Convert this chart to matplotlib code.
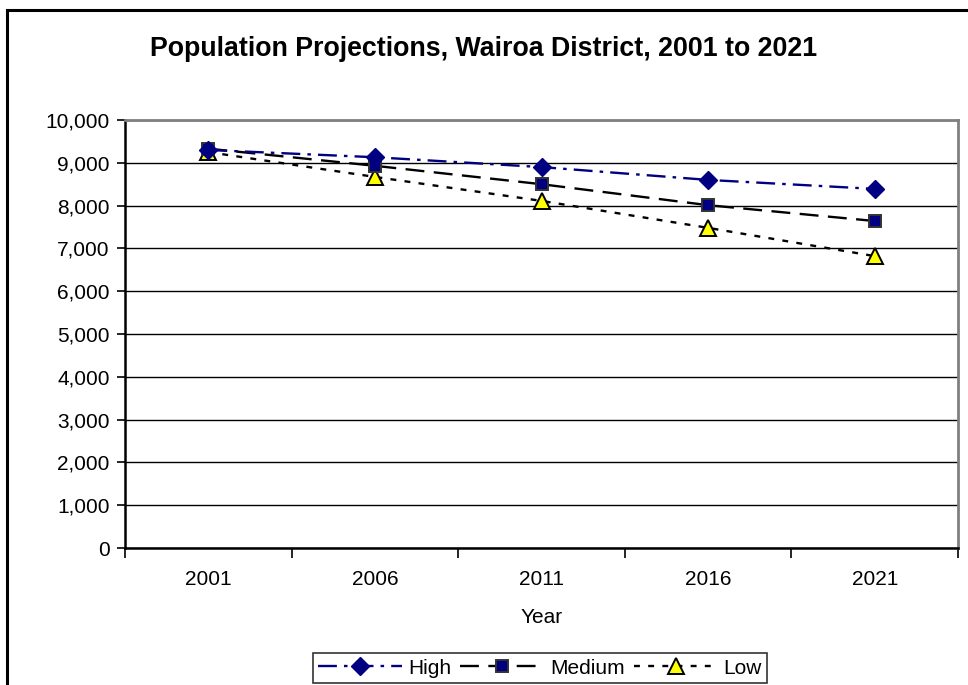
import matplotlib
matplotlib.use("Agg")
import matplotlib.pyplot as plt
from matplotlib.patches import Rectangle

plt.rcParams['font.family'] = ['Liberation Sans', 'DejaVu Sans']

years = ["2001", "2006", "2011", "2016", "2021"]
high = [9300, 9130, 8900, 8600, 8390]
medium = [9330, 8930, 8500, 8010, 7640]
low = [9250, 8670, 8110, 7480, 6820]
y_ticks = [0, 1000, 2000, 3000, 4000, 5000, 6000, 7000, 8000, 9000, 10000]

FS = 15

fig = plt.figure(figsize=(9.68, 6.85), dpi=100)
fig.patch.set_facecolor('white')
# outer chart border (top and left visible)
fig.patches.append(Rectangle((7/968, -0.05), 1.2, 1 - 9.5/685 + 0.05, transform=fig.transFigure,
                             fill=False, edgecolor='black', linewidth=2.2))

ax = fig.add_axes([125/968, 1 - 548/685, (958 - 125)/968, (548 - 120)/685])
x = list(range(len(years)))

ax.plot(x, high, color='#000080', linestyle=(0, (8, 3, 1.5, 3)), linewidth=1.7,
        marker='D', markersize=9.5, markerfacecolor='#000080', markeredgecolor='#000080', label='High', zorder=5)
ax.plot(x, medium, color='black', linestyle=(0, (8, 4)), linewidth=1.7,
        marker='s', markersize=9, markerfacecolor='#000080', markeredgecolor='#333333', markeredgewidth=1.4,
        label='Medium', zorder=4)
ax.plot(x, low, color='black', linestyle=(0, (2.5, 3.5)), linewidth=1.7,
        marker='^', markersize=11, markerfacecolor='#FFFF00', markeredgecolor='black', markeredgewidth=1.4,
        label='Low', zorder=3)

ax.set_xlim(-0.5, len(years) - 0.5)
ax.set_ylim(0, 10000)
ax.set_yticks(y_ticks)
ax.set_yticklabels([f"{v:,}" for v in y_ticks], fontsize=FS)
ax.yaxis.grid(True, color='black', linewidth=1.0)
ax.set_axisbelow(True)

ax.set_xticks([i - 0.5 for i in range(len(years) + 1)])
ax.set_xticklabels([])
ax.set_xticks(x, minor=True)
ax.set_xticklabels(years, minor=True, fontsize=FS)
ax.tick_params(axis='x', which='major', direction='out', length=7, width=1.2, color='black')
ax.tick_params(axis='x', which='minor', length=0, pad=15.5)
ax.tick_params(axis='y', direction='out', length=6, width=1.2, pad=5)

for s in ['left', 'bottom']:
    ax.spines[s].set_color('black')
    ax.spines[s].set_linewidth(1.8)
for s in ['top', 'right']:
    ax.spines[s].set_color('#808080')
    ax.spines[s].set_linewidth(2.0)

ax.set_xlabel('Year', fontsize=FS, labelpad=14)

fig.text(0.5, 1 - 49/685, 'Population Projections, Wairoa District, 2001 to 2021',
         ha='center', va='center', fontsize=19.3, fontweight='bold')

leg = fig.legend(loc='center', bbox_to_anchor=(540/968, 1 - 668/685), ncol=3, frameon=True,
                 fancybox=False, edgecolor='black', fontsize=FS, handlelength=4.0,
                 handletextpad=0.3, columnspacing=0.45, borderpad=0.25, borderaxespad=0)
leg.get_frame().set_linewidth(1.2)

fig.savefig('out.png', dpi=100, facecolor='white')
